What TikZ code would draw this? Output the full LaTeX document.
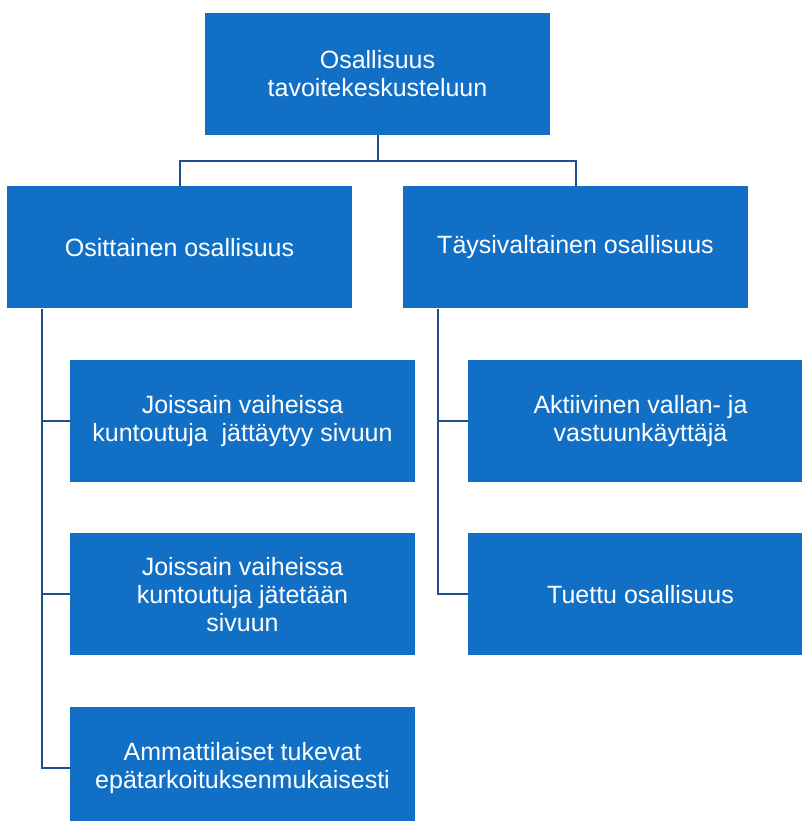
\documentclass[tikz,border=0pt]{standalone}
\usepackage{fontspec}
\setmainfont{Liberation Sans}
\usetikzlibrary{positioning}
\definecolor{boxblue}{RGB}{17,112,198}
\definecolor{lineblue}{RGB}{31,80,140}

\begin{document}
\begin{tikzpicture}[x=1pt, y=1pt, node distance=51pt,
  block/.style={fill=boxblue, text=white, minimum width=345pt, minimum height=122pt,
    align=center, font=\fontsize{25}{28}\selectfont, inner sep=0pt},
  link/.style={draw=lineblue, line width=2pt}]

  \clip (0,0) rectangle (802,-821);

  % Top
  \node[block] (top) at (377.5,-74) {Osallisuus\\tavoitekeskusteluun};

  % Second row
  \node[block, below=of top, xshift=-198pt] (osit) {Osittainen osallisuus};
  \node[block, below=of top, xshift=198pt] (tays) {Täysivaltainen osallisuus};

  % Left column
  \node[block, below=of osit, xshift=63pt] (L1) {Joissain vaiheissa\\kuntoutuja\ \ jättäytyy sivuun};
  \node[block, below=of L1] (L2) {Joissain vaiheissa\\kuntoutuja jätetään\\sivuun};
  \node[block, below=of L2] (L3) {Ammattilaiset tukevat\\epätarkoituksenmukaisesti};

  % Right column
  \node[block, below=of tays, xshift=65pt] (R1) {Aktiivinen vallan- ja\\vastuunkäyttäjä};
  \node[block, below=of R1] (R2) {Tuettu osallisuus};

  % Connectors from top
  \draw[link] (top.south) -- ++(0,-25.5) -| (osit.north);
  \draw[link] (top.south) -- ++(0,-25.5) -| (tays.north);

  % Left spine
  \draw[link] ([xshift=35pt]osit.south west) |- (L1.west);
  \draw[link] ([xshift=35pt]osit.south west) |- (L2.west);
  \draw[link] ([xshift=35pt]osit.south west) |- (L3.west);

  % Right spine
  \draw[link] ([xshift=35pt]tays.south west) |- (R1.west);
  \draw[link] ([xshift=35pt]tays.south west) |- (R2.west);

\end{tikzpicture}
\end{document}
